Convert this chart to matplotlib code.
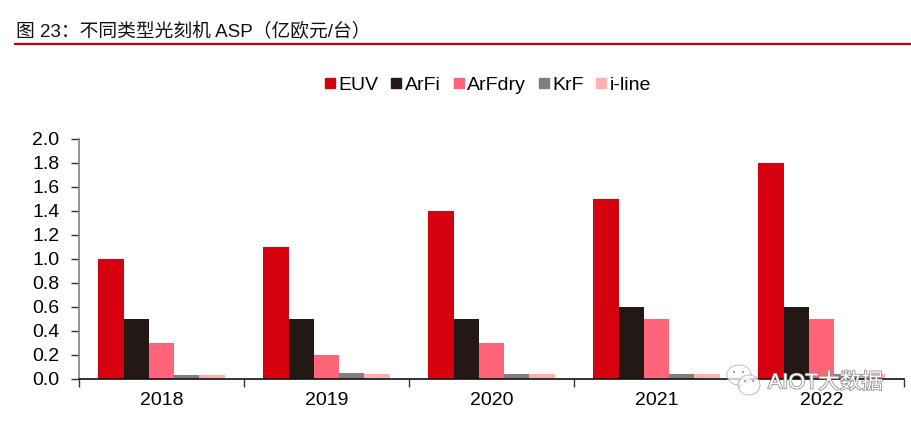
import numpy as np
import matplotlib
matplotlib.use('Agg')
import matplotlib.pyplot as plt
from matplotlib.lines import Line2D
from matplotlib.patches import Ellipse
from matplotlib import patheffects as pe

anos = ['2018', '2019', '2020', '2021', '2022']
euv = [1.0, 1.1, 1.4, 1.5, 1.8]
arfi = [0.5, 0.5, 0.5, 0.6, 0.6]
arfdry = [0.3, 0.2, 0.3, 0.5, 0.5]
krf = [0.03, 0.05, 0.04, 0.04, 0.04]
iline = [0.03, 0.04, 0.04, 0.04, 0.04]
nomes = ['EUV', 'ArFi', 'ArFdry', 'KrF', 'i-line']
cores = ['#D7000F', '#231815', '#FF6479', '#7F7F7F', '#FFB0B0']
yticks = [0.0, 0.2, 0.4, 0.6, 0.8, 1.0, 1.2, 1.4, 1.6, 1.8, 2.0]

plt.rcParams['font.family'] = ['Liberation Sans', 'Noto Sans CJK SC']

W, H = 911, 422
fig = plt.figure(figsize=(W/100, H/100), dpi=100)
ax = fig.add_axes([79/W, 1-378.5/H, 825/W, 240/H])

# barras agrupadas
x = np.arange(len(anos))
larg = 0.1535
series = [euv, arfi, arfdry, krf, iline]
for i in range(5):
    ax.bar(x + (i-2)*larg, series[i], larg, color=cores[i], label=nomes[i], zorder=2)

ax.set_xlim(-0.5, 4.5)
ax.set_ylim(0, 2.0)
ax.set_yticks(yticks)
ax.set_yticklabels([f'{v:.1f}' for v in yticks], fontsize=14)
ax.set_xticks(np.arange(-0.5, 5, 1))
ax.set_xticklabels([])
ax.tick_params(axis='y', length=6, width=1, color='#333333', pad=8)
ax.tick_params(axis='x', length=6, width=1, color='#333333')
for i in range(5):
    ax.annotate(anos[i], (x[i], 0), xycoords=('data', 'axes fraction'),
                xytext=(0, -22), textcoords='offset pixels', ha='center', va='center', fontsize=14)
ax.spines['top'].set_visible(False)
ax.spines['right'].set_visible(False)
ax.spines['left'].set_color('#808080')
ax.spines['left'].set_linewidth(1.2)
ax.spines['bottom'].set_color('#111111')
ax.spines['bottom'].set_linewidth(1.2)

# legenda
handles = [Line2D([], [], marker='s', linestyle='', markersize=7, color=c) for c in cores]
fig.legend(handles, nomes, ncol=5, loc='center', bbox_to_anchor=(486.5/W, 1-85/H), frameon=False,
           fontsize=14, handletextpad=0.0, columnspacing=0.5, handlelength=0.85, borderpad=0)

# titulo e linha vermelha
fig.text(16/W, 1-32/H, '图 23：不同类型光刻机 ASP（亿欧元/台）', fontsize=13.5, color='#111111', ha='left', va='center')
fig.add_artist(Line2D([15/W, 1], [1-43.5/H, 1-43.5/H], color='#C00000', lw=1.6))

# marca d'agua
efeito = [pe.withStroke(linewidth=1.1, foreground='#8A8A8A')]
fig.text(768/W, 1-383/H, 'AIOT大数据', fontsize=15.5, color='white', ha='left', va='center',
         path_effects=efeito, zorder=10)
for cx, cy, w, h in [(739, 375, 24, 20), (749, 385, 22, 20)]:
    fig.add_artist(Ellipse((cx/W, 1-cy/H), w/W, h/H, transform=fig.transFigure,
                           facecolor='white', edgecolor='#A8A8A8', lw=0.7, alpha=0.75, zorder=9))
for px, py in [(734, 372), (743, 372), (745, 381), (753, 381)]:
    fig.add_artist(Ellipse((px/W, 1-py/H), 2/W, 2/H, transform=fig.transFigure,
                           facecolor='#909090', edgecolor='none', zorder=10))

fig.savefig('out.png', dpi=100)
